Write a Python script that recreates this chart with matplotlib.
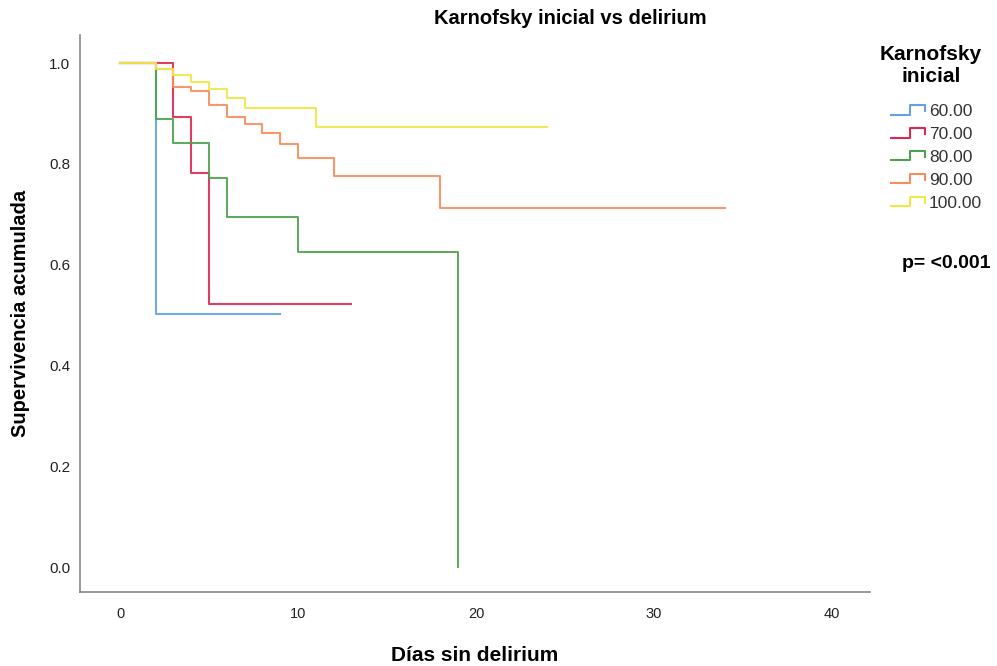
import numpy as np
import matplotlib
matplotlib.use("Agg")
import matplotlib.pyplot as plt
from matplotlib.lines import Line2D
from matplotlib.legend_handler import HandlerBase

plt.rcParams['font.family'] = ['Liberation Sans', 'DejaVu Sans']

# Data (Kaplan-Meier step curves)
groups = ["60.00", "70.00", "80.00", "90.00", "100.00"]
colors = ["#64A0E6", "#DC2850", "#50A050", "#FA8C5A", "#F0E646"]

t60 = [0, 2, 9]
s60 = [1.0, 0.503, 0.503]
t70 = [0, 3, 4, 5, 13]
s70 = [1.0, 0.892, 0.781, 0.522, 0.522]
t80 = [0, 2, 3, 5, 6, 10, 19]
s80 = [1.0, 0.889, 0.841, 0.771, 0.695, 0.626, 0.0]
t90 = [0, 2, 3, 4, 5, 6, 7, 8, 9, 10, 12, 18, 34]
s90 = [1.0, 0.989, 0.953, 0.945, 0.917, 0.893, 0.879, 0.862, 0.839, 0.812, 0.776, 0.713, 0.713]
t100 = [0, 2, 3, 4, 5, 6, 7, 11, 24]
s100 = [1.0, 0.989, 0.977, 0.963, 0.948, 0.930, 0.910, 0.874, 0.874]

times = [t60, t70, t80, t90, t100]
survs = [s60, s70, s80, s90, s100]

xticks = [0, 10, 20, 30, 40]
yticks = [0.0, 0.2, 0.4, 0.6, 0.8, 1.0]


class StepHandler(HandlerBase):
    def create_artists(self, legend, orig_handle, xdescent, ydescent,
                       width, height, fontsize, trans):
        xs = np.array([0, 0.55, 0.55, 1.0, 1.0]) * width - xdescent
        ys = np.array([0.1, 0.1, 0.9, 0.9, 0.4]) * height - ydescent
        ln = Line2D(xs, ys, color=orig_handle.get_color(), lw=1.5)
        ln.set_transform(trans)
        return [ln]


fig = plt.figure(figsize=(9.97, 6.66), dpi=100)
ax = fig.add_axes([80 / 997, 1 - 592 / 666, (870 - 80) / 997, (592 - 35) / 666])

handles = []
for t, s, c, g in zip(times, survs, colors, groups):
    h, = ax.step(t, s, where='post', color=c, lw=1.5, alpha=0.9, label=g)
    handles.append(h)

ax.set_xlim(-2.25, 42.13)
ax.set_ylim(-0.0496, 1.0556)
ax.set_xticks(xticks)
ax.set_xticklabels([str(v) for v in xticks])
ax.set_yticks(yticks)
ax.set_yticklabels([f"{v:.1f}" for v in yticks])
ax.tick_params(axis='y', length=0, labelsize=11, colors='#222222', pad=7)
ax.tick_params(axis='x', length=0, labelsize=10.5, colors='#222222', pad=11)
for sp in ['top', 'right']:
    ax.spines[sp].set_visible(False)
for sp in ['left', 'bottom']:
    ax.spines[sp].set_color('#888888')
    ax.spines[sp].set_linewidth(1.2)

ax.set_xlabel("Días sin delirium", fontsize=15, fontweight='bold', labelpad=18)
ax.set_ylabel("Supervivencia acumulada", fontsize=14.5, fontweight='bold', labelpad=14)

fig.text(570 / 997, 1 - 18 / 666, "Karnofsky inicial vs delirium",
         ha='center', va='center', fontsize=14.5, fontweight='bold')

fig.text(931 / 997, 1 - 66 / 666, "Karnofsky\ninicial", ha='center', va='center',
         multialignment='center', fontsize=15, fontweight='bold', linespacing=1.2)

leg = fig.legend(handles=handles, labels=groups, loc='upper left',
                 bbox_to_anchor=(875 / 997, 1 - 88 / 666), frameon=False,
                 handler_map={Line2D: StepHandler()}, fontsize=12.5,
                 handlelength=2.0, handletextpad=0.2, labelspacing=0.45)
for txt in leg.get_texts():
    txt.set_color('#333333')

fig.text(990 / 997, 1 - 263 / 666, "p= <0.001", ha='right', va='center',
         fontsize=14, fontweight='bold')

fig.savefig("out.png", dpi=100)
